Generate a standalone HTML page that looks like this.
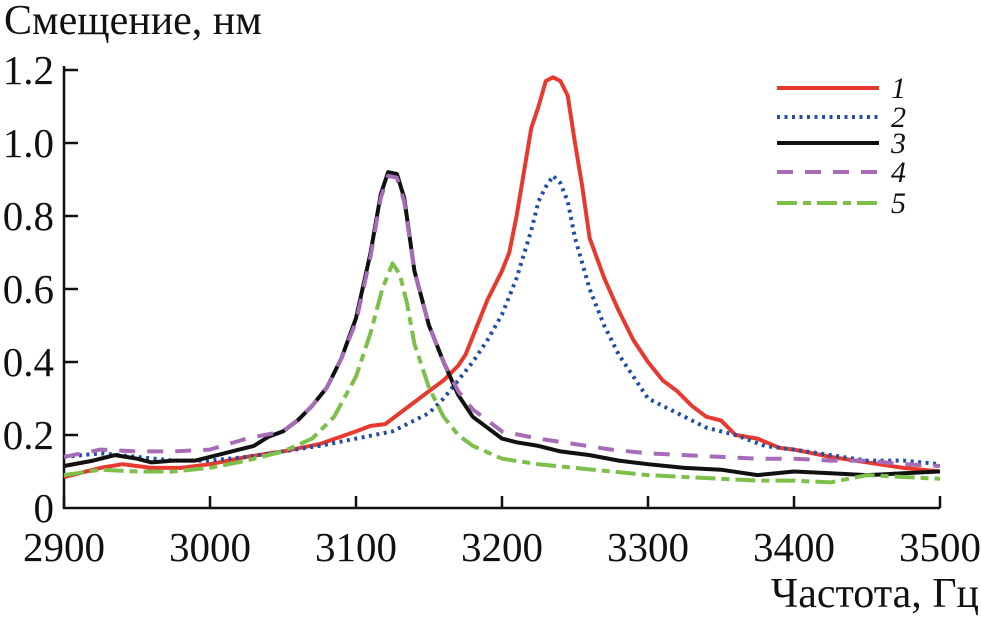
<!DOCTYPE html>
<html><head><meta charset="utf-8"><style>
body{margin:0;background:#fff}
svg text{font-family:"Liberation Serif",serif;fill:#111}
</style></head><body>
<svg id="c" width="981" height="619" xmlns="http://www.w3.org/2000/svg">
<g id="axes"></g>
<g id="series"></g>
<g id="legend"></g>
<text x="4" y="34" font-size="42">Смещение, нм</text>
<text x="979" y="607" font-size="42" text-anchor="end">Частота, Гц</text>
</svg>
<script>
const xTicks=[2900,3000,3100,3200,3300,3400,3500];
const yTicks=[0,0.2,0.4,0.6,0.8,1.0,1.2];
const yTickLabels=["0","0.2","0.4","0.6","0.8","1.0","1.2"];
const seriesNames=["1","2","3","4","5"];
const s1x=[2900,2925,2940,2960,2980,3000,3025,3050,3075,3100,3110,3120,3130,3140,3150,3160,3170,3175,3185,3190,3200,3205,3210,3215,3220,3225,3230,3235,3240,3245,3250,3255,3260,3270,3280,3290,3300,3310,3320,3330,3340,3350,3360,3375,3390,3400,3425,3450,3475,3500];
const s1y=[0.085,0.11,0.12,0.11,0.11,0.12,0.14,0.155,0.175,0.21,0.225,0.23,0.26,0.29,0.32,0.35,0.39,0.42,0.52,0.57,0.65,0.70,0.80,0.92,1.04,1.10,1.17,1.18,1.17,1.13,1.00,0.88,0.74,0.63,0.54,0.46,0.40,0.35,0.32,0.28,0.25,0.24,0.20,0.19,0.165,0.16,0.14,0.125,0.11,0.10];
const s2x=[2900,2925,2950,2975,3000,3025,3050,3075,3100,3125,3140,3150,3160,3170,3180,3190,3200,3210,3220,3225,3230,3235,3240,3245,3250,3260,3270,3280,3290,3300,3320,3340,3360,3380,3400,3425,3450,3475,3500];
const s2y=[0.14,0.15,0.14,0.13,0.13,0.14,0.155,0.17,0.19,0.21,0.24,0.26,0.30,0.35,0.40,0.46,0.53,0.63,0.76,0.84,0.88,0.91,0.89,0.84,0.74,0.60,0.50,0.42,0.36,0.30,0.26,0.22,0.20,0.17,0.16,0.145,0.13,0.13,0.12];
const s3x=[2900,2920,2935,2950,2960,2975,2990,3000,3020,3030,3040,3050,3060,3070,3080,3090,3100,3110,3117,3122,3128,3133,3140,3150,3160,3170,3180,3190,3200,3210,3225,3240,3260,3280,3300,3325,3350,3375,3400,3425,3450,3475,3500];
const s3y=[0.115,0.13,0.145,0.135,0.125,0.13,0.13,0.14,0.16,0.17,0.195,0.21,0.24,0.28,0.33,0.41,0.52,0.70,0.86,0.92,0.915,0.85,0.65,0.50,0.40,0.31,0.25,0.22,0.19,0.18,0.17,0.155,0.145,0.13,0.12,0.11,0.105,0.09,0.10,0.095,0.09,0.095,0.10];
const s4x=[2900,2925,2950,2975,3000,3025,3050,3060,3070,3080,3090,3100,3110,3117,3122,3128,3133,3140,3150,3160,3170,3180,3200,3225,3250,3275,3300,3325,3350,3375,3400,3425,3450,3475,3500];
const s4y=[0.14,0.16,0.155,0.155,0.16,0.19,0.21,0.24,0.28,0.33,0.41,0.51,0.69,0.85,0.91,0.905,0.84,0.65,0.50,0.40,0.32,0.27,0.21,0.19,0.175,0.16,0.15,0.145,0.14,0.135,0.135,0.13,0.13,0.12,0.115];
const s5x=[2900,2925,2950,2975,3000,3025,3050,3070,3085,3100,3110,3118,3125,3130,3135,3140,3150,3160,3170,3180,3200,3225,3250,3275,3300,3325,3350,3375,3400,3425,3450,3475,3500];
const s5y=[0.09,0.105,0.10,0.10,0.11,0.13,0.155,0.19,0.25,0.36,0.48,0.60,0.67,0.64,0.56,0.45,0.33,0.25,0.20,0.17,0.135,0.12,0.11,0.10,0.09,0.085,0.08,0.075,0.075,0.07,0.09,0.085,0.08];
const NS="http://www.w3.org/2000/svg";
const X=v=>64+(v-2900)*(876/600);
const Y=v=>508-v*(438/1.2);
function mk(t,a,p){const e=document.createElementNS(NS,t);for(const k in a)e.setAttribute(k,a[k]);p.appendChild(e);return e;}
const ax=document.getElementById('axes');
let l=mk('line',{x1:64,y1:Y(1.2)-4,x2:64,y2:509,stroke:'#111','stroke-width':2.5},ax);


l=mk('line',{x1:63,y1:508,x2:X(3500),y2:508,stroke:'#111','stroke-width':2.5},ax);


xTicks.forEach(v=>{
 const t=mk('line',{x1:X(v),y1:508,x2:X(v),y2:496,stroke:'#111','stroke-width':2.5},ax);
 
 
 const tx=mk('text',{x:X(v),y:561,'font-size':41,'text-anchor':'middle'},ax);tx.textContent=v;
 
 
});
yTicks.forEach((v,i)=>{
 if(i>0){const t=mk('line',{x1:64,y1:Y(v),x2:78,y2:Y(v),stroke:'#111','stroke-width':2.5},ax);
 
 }
 const tx=mk('text',{x:54,y:Y(v)+14,'font-size':41,'text-anchor':'end'},ax);tx.textContent=yTickLabels[i];
 
 
});
const styles=[{c:'#e8392e',d:''},{c:'#1f4fa8',d:'3 4.5'},{c:'#111',d:''},{c:'#a86bb8',d:'16 12'},{c:'#7cc04a',d:'20 6 8 6'}];
const data=[[s1x,s1y],[s2x,s2y],[s3x,s3y],[s4x,s4y],[s5x,s5y]];
const sg=document.getElementById('series');
data.forEach((d,i)=>{
 const pts=d[0].map((x,j)=>X(x).toFixed(1)+','+Y(d[1][j]).toFixed(1)).join(' ');
 const p=mk('polyline',{points:pts,fill:'none',stroke:styles[i].c,'stroke-width':4,'stroke-dasharray':styles[i].d,'stroke-linejoin':'round'},sg);
 
 
});
const lg=document.getElementById('legend');
const ly=[88,117,143,172,203];
seriesNames.forEach((n,i)=>{
 const e=mk('line',{x1:777,y1:ly[i],x2:879,y2:ly[i],stroke:styles[i].c,'stroke-width':4,'stroke-dasharray':styles[i].d},lg);
 
 
 const t=mk('text',{x:891,y:ly[i]+10,'font-size':30,'font-style':'italic'},lg);t.textContent=n;
 
 
});
</script>
</body></html>
